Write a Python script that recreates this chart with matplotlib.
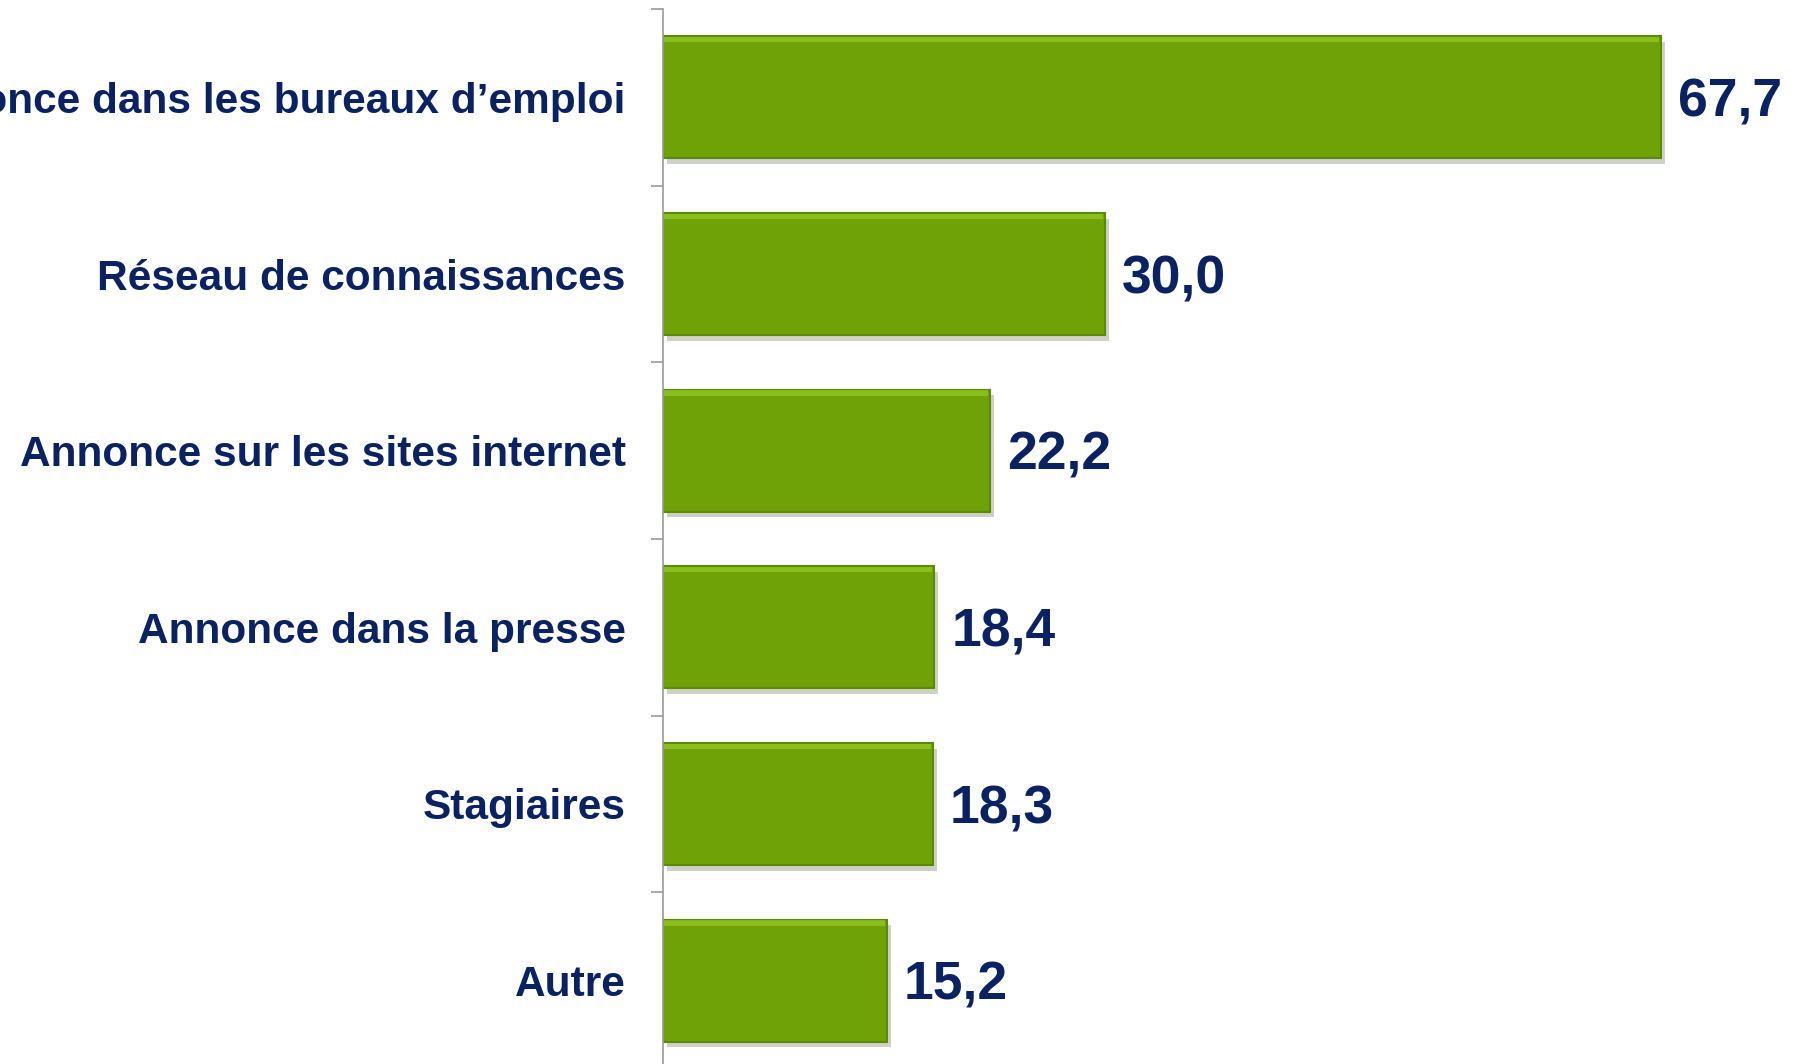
import matplotlib
matplotlib.use("Agg")
import matplotlib.pyplot as plt
import matplotlib.patheffects as pe

categories = ["Annonce dans les bureaux d\u2019emploi", "Réseau de connaissances",
              "Annonce sur les sites internet", "Annonce dans la presse",
              "Stagiaires", "Autre"]
values = [67.7, 30.0, 22.2, 18.4, 18.3, 15.2]
value_labels = ["67,7", "30,0", "22,2", "18,4", "18,3", "15,2"]

plt.rcParams['font.family'] = ['Liberation Sans', 'DejaVu Sans']
W, H = 1798, 1064
fig = plt.figure(figsize=(W / 100, H / 100), dpi=100)
ax_left, ax_top, ax_bottom = 663, 9, 1069
ax = fig.add_axes([ax_left / W, 1 - ax_bottom / H, (W - ax_left) / W, (ax_bottom - ax_top) / H])

n = len(categories)
ypos = list(range(n))
bars = ax.barh(ypos, values, height=0.69, color='#6fa207', edgecolor='#5b8a08', linewidth=1.5,
               path_effects=[pe.SimplePatchShadow(offset=(3, -4), alpha=0.22), pe.Normal()])
# bevel highlight on top edge (axis is inverted, so y is the visual top)
for b in bars:
    x, y, w, h = b.get_x(), b.get_y(), b.get_width(), b.get_height()
    ax.barh(y + h * 0.005, w - 0.25, left=x + 0.1, height=h * 0.045, color='#9bcd2a',
            align='edge', linewidth=0, alpha=0.65)

ax.set_ylim(n - 0.5, -0.5)
ax.set_xlim(0, (W - ax_left) / 14.74)

for yi, v, lab in zip(ypos, values, value_labels):
    ax.annotate(lab, (v, yi), xytext=(17, -5), textcoords='offset pixels', ha='left', va='center',
                fontsize=38.5, fontweight='bold', color='#0a2262')

ax.set_yticks([i - 0.5 for i in range(n + 1)])
ax.set_yticklabels([])
ax.set_yticks(ypos, minor=True)
ax.set_yticklabels(categories, minor=True, fontsize=30.5, fontweight='bold', color='#0a2262')
ax.tick_params(axis='y', which='major', length=9, color='#999999', width=1.2, direction='out')
ax.tick_params(axis='y', which='minor', length=0, pad=27)
ax.set_xticks([])
for s in ['top', 'right', 'bottom']:
    ax.spines[s].set_visible(False)
ax.spines['left'].set_color('#999999')
ax.spines['left'].set_linewidth(1.2)

fig.savefig("out.png", dpi=100, facecolor='white')
